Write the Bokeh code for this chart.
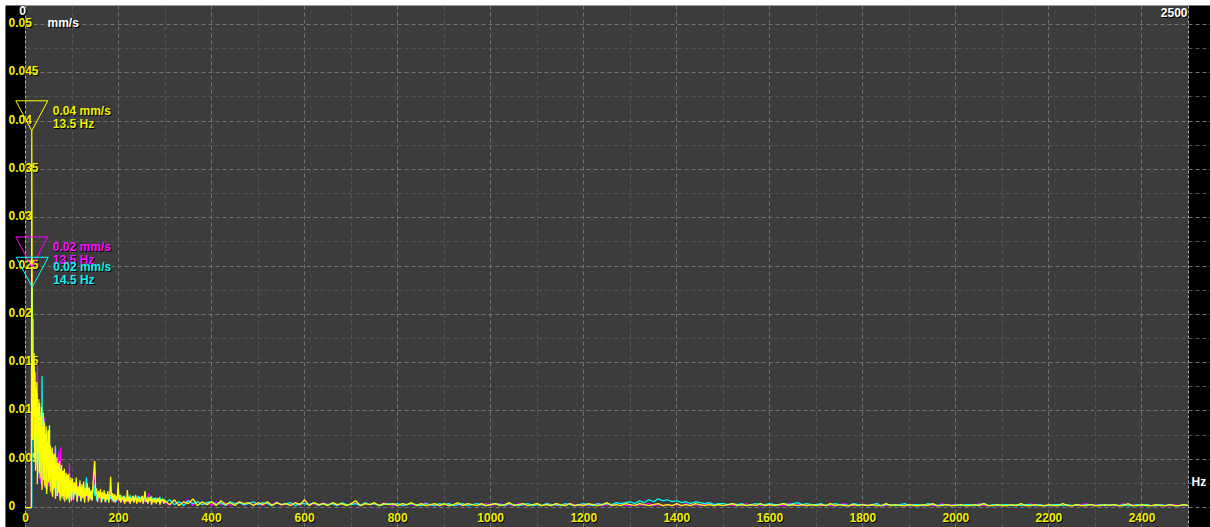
import numpy as np
from bokeh.plotting import figure
from bokeh.models import (ColumnDataSource, LabelSet, Label, Grid, FixedTicker,
                          PolyAnnotation, BoxAnnotation, Span, Range1d)
from bokeh.core.properties import value
from bokeh.embed import file_html
from bokeh.resources import INLINE

# ---------------------------------------------------------------------------
# Frequency bins (Hz): fine resolution at the low end, coarser further up
# ---------------------------------------------------------------------------
FREQ_LO = np.arange(0.5, 100.0, 1.0)       # 0.5 ... 99.5
FREQ_MID = np.arange(101.0, 300.0, 2.0)    # 101 ... 299
FREQ_HI = np.arange(300.0, 2501.0, 10.0)   # 300 ... 2500

# ---------------------------------------------------------------------------
# Velocity amplitude spectra, in units of 1e-4 mm/s
# ---------------------------------------------------------------------------
MAGENTA_LO = [
    0, 0, 0, 0, 0, 0, 0, 0, 0, 0, 0, 0, 0,
    249,
    150, 192, 84, 140, 62, 128,
    90, 118, 40, 110, 60, 150, 30, 96, 52, 104,
    44, 92, 26, 84, 58, 90, 20, 76, 42, 86,
    24, 93, 50, 74, 16, 66, 38, 78, 22, 64,
    48, 70, 18, 60, 34, 56, 12, 52, 30, 54,
    20, 50, 36, 62, 10, 48, 26, 44, 14, 40,
    30, 58, 12, 42, 24, 62, 8, 38, 20, 36,
    14, 34, 26, 40, 7, 30, 18, 36, 10, 28,
    32, 9, 26, 24, 46, 8, 26, 18, 28, 6,
]
MAGENTA_MID = [
    22, 8, 26, 12, 20, 6, 24, 10, 18, 7,
    21, 9, 17, 5, 22, 11, 16, 6, 19, 8,
    15, 7, 20, 49, 30, 12, 17, 5, 14, 9,
    16, 6, 13, 8, 15, 5, 12, 9, 14, 6,
    11, 16, 7, 12, 5, 13, 6, 11, 8, 12,
    6, 12, 5, 10, 7, 11, 4, 9, 6, 10,
    5, 10, 4, 9, 7, 11, 5, 8, 10, 4,
    9, 6, 10, 5, 8, 11, 4, 9, 6, 7,
    8, 4, 15, 6, 10, 3, 8, 9, 5, 9,
    4, 8, 6, 9, 3, 7, 6, 8, 4, 7,
]
MAGENTA_HI = [
    6, 2, 7, 3, 5, 8, 2, 6, 3, 5,
    2, 6, 3, 5, 2, 4, 6, 2, 5, 3,
    4, 2, 5, 3, 6, 2, 4, 3, 5, 2,
    7, 3, 4, 2, 5, 3, 4, 2, 4, 3,
    3, 5, 2, 4, 3, 4, 2, 5, 3, 2,
    4, 2, 3, 4, 2, 3, 5, 2, 3, 2,
    3, 4, 2, 3, 2, 4, 3, 2, 3, 4,
    2, 3, 4, 2, 3, 2, 4, 3, 2, 3,
    3, 2, 4, 3, 2, 3, 2, 4, 3, 2,
    3, 2, 3, 4, 2, 3, 2, 3, 4, 2,
    2, 3, 2, 3, 4, 2, 3, 2, 3, 2,
    3, 2, 4, 2, 3, 2, 3, 4, 2, 3,
    2, 3, 2, 3, 2, 4, 2, 3, 2, 3,
    2, 3, 2, 2, 4, 2, 3, 2, 3, 2,
    3, 2, 3, 2, 2, 3, 4, 2, 2, 3,
    2, 3, 2, 4, 2, 2, 3, 2, 3, 2,
    2, 3, 2, 2, 3, 2, 2, 4, 2, 3,
    3, 2, 2, 3, 2, 4, 2, 2, 3, 2,
    2, 3, 2, 2, 3, 2, 4, 2, 3, 2,
    2, 2, 3, 2, 3, 2, 2, 3, 4, 2,
    3, 2, 2, 3, 2, 2, 4, 2, 3, 2,
    2, 3, 2, 2, 3, 2, 2, 3, 2, 2,
    3,
]

CYAN_LO = [
    0, 0, 0, 0, 0, 0, 0, 0, 0, 0, 0, 0, 0, 0,
    228,
    96, 196, 70, 150, 58,
    120, 130, 44, 108, 66, 118, 34, 100, 56, 92,
    40, 98, 62, 88, 24, 136, 50, 82, 30, 90,
    36, 80, 20, 72, 46, 78, 18, 68, 40, 62,
    28, 85, 22, 58, 36, 60, 14, 54, 32, 56,
    18, 50, 30, 48, 64, 12, 44, 26, 46, 16,
    40, 22, 44, 10, 36, 28, 42, 12, 34, 20,
    32, 8, 30, 22, 36, 10, 28, 16, 31, 9,
    26, 18, 30, 7, 24, 14, 28, 10, 22, 16,
]
CYAN_MID = [
    24, 9, 20, 13, 26, 7, 18, 12, 22, 6,
    19, 10, 23, 8, 17, 31, 12, 20, 7, 16,
    14, 8, 19, 24, 12, 16, 7, 14, 10, 15,
    12, 14, 7, 13, 10, 15, 6, 12, 14, 8,
    13, 9, 14, 7, 12, 10, 13, 6, 11, 9,
    12, 7, 13, 8, 11, 6, 12, 9, 10, 7,
    11, 8, 13, 6, 10, 12, 7, 11, 9, 6,
    10, 12, 6, 9, 11, 7, 10, 8, 12, 6,
    9, 11, 6, 10, 8, 12, 5, 9, 10, 7,
    8, 10, 6, 9, 11, 5, 8, 9, 7, 8,
]
CYAN_HI = [
    5, 8, 3, 6, 2, 7, 4, 6, 3, 5,
    6, 3, 5, 2, 6, 4, 5, 3, 4, 6,
    3, 5, 4, 2, 5, 3, 4, 5, 2, 4,
    4, 3, 5, 2, 4, 3, 4, 2, 5, 3,
    3, 4, 2, 5, 3, 4, 2, 3, 4, 3,
    4, 2, 3, 4, 3, 2, 4, 3, 2, 4,
    3, 4, 2, 3, 4, 2, 3, 4, 3, 2,
    3, 4, 3, 2, 4, 3, 2, 3, 4, 2,
    3, 2, 4, 3, 3, 2, 4, 3, 2, 3,
    4, 3, 2, 4, 3, 4, 3, 5, 4, 5,
    6, 4, 7, 5, 8, 6, 9, 7, 8, 6,
    7, 5, 6, 4, 6, 5, 4, 5, 3, 4,
    4, 3, 4, 3, 4, 2, 3, 4, 3, 3,
    4, 3, 3, 4, 3, 4, 5, 3, 4, 3,
    3, 4, 2, 3, 4, 3, 3, 2, 4, 3,
    3, 2, 3, 4, 2, 3, 3, 2, 3, 4,
    2, 3, 3, 2, 4, 3, 2, 3, 3, 2,
    3, 2, 3, 3, 2, 3, 4, 2, 3, 2,
    3, 3, 2, 3, 2, 3, 3, 2, 3, 2,
    2, 3, 3, 2, 3, 2, 3, 2, 3, 3,
    2, 3, 2, 3, 3, 2, 3, 2, 2, 3,
    2, 3, 2, 2, 3, 2, 3, 2, 2, 3,
    2,
]

YELLOW_LO = [
    0, 0, 0, 0, 0, 0, 0, 0, 0, 0, 0, 0, 0,
    390,
    166, 70, 152, 96, 160, 50,
    140, 38, 124, 76, 130, 24, 104, 58, 112, 36,
    108, 30, 94, 60, 104, 18, 84, 46, 98, 28,
    88, 22, 76, 50, 84, 14, 68, 40, 80, 26,
    62, 85, 30, 64, 16, 58, 34, 62, 11, 50,
    55, 20, 42, 56, 9, 46, 28, 52, 12, 38,
    46, 15, 34, 48, 7, 40, 24, 44, 10, 32,
    38, 12, 28, 40, 6, 32, 19, 36, 8, 26,
    34, 10, 24, 35, 5, 28, 15, 31, 7, 23,
]
YELLOW_MID = [
    30, 8, 26, 14, 31, 6, 22, 12, 28, 7,
    24, 10, 27, 5, 20, 12, 25, 6, 21, 9,
    18, 7, 24, 36, 48, 14, 20, 6, 17, 10,
    19, 5, 16, 9, 18, 6, 14, 8, 17, 5,
    12, 32, 9, 15, 6, 14, 5, 12, 8, 26,
    7, 13, 5, 11, 8, 12, 4, 10, 6, 18,
    6, 11, 4, 10, 7, 12, 5, 9, 13, 4,
    10, 6, 11, 5, 9, 12, 4, 10, 17, 6,
    9, 4, 10, 7, 11, 3, 8, 9, 5, 10,
    4, 9, 6, 10, 3, 8, 7, 9, 4, 8,
]
YELLOW_HI = [
    7, 3, 8, 2, 6, 4, 9, 2, 6, 3,
    6, 2, 7, 3, 5, 2, 6, 4, 5, 2,
    5, 3, 6, 2, 5, 3, 4, 2, 5, 3,
    8, 2, 5, 3, 4, 2, 5, 3, 4, 2,
    4, 7, 2, 4, 3, 5, 2, 4, 3, 4,
    2, 4, 3, 5, 2, 4, 2, 3, 4, 2,
    4, 2, 3, 5, 2, 4, 3, 2, 4, 2,
    3, 4, 2, 3, 5, 2, 3, 4, 2, 3,
    4, 2, 3, 2, 4, 3, 2, 4, 2, 3,
    2, 4, 3, 2, 3, 5, 2, 3, 2, 4,
    3, 2, 4, 3, 2, 3, 4, 2, 3, 2,
    4, 2, 3, 2, 4, 3, 2, 3, 2, 3,
    2, 3, 4, 2, 3, 2, 3, 2, 4, 2,
    3, 2, 3, 4, 2, 3, 2, 3, 2, 3,
    2, 3, 2, 4, 2, 3, 2, 2, 3, 2,
    3, 2, 3, 2, 2, 4, 2, 3, 2, 2,
    3, 2, 2, 3, 2, 4, 2, 2, 3, 2,
    2, 3, 2, 2, 3, 2, 4, 2, 2, 3,
    2, 2, 3, 2, 4, 2, 2, 3, 2, 2,
    3, 2, 2, 4, 2, 2, 3, 2, 2, 3,
    2, 2, 3, 2, 3, 2, 2, 4, 2, 2,
    3, 2, 2, 3, 2, 2, 3, 2, 2, 3,
    2,
]

# axis ticks
X_TICKS = [0, 200, 400, 600, 800, 1000, 1200, 1400, 1600, 1800, 2000, 2200, 2400]
X_TICK_LABELS = ["0", "200", "400", "600", "800", "1000", "1200", "1400",
                 "1600", "1800", "2000", "2200", "2400"]
X_MINOR = [100, 300, 500, 700, 900, 1100, 1300, 1500, 1700, 1900, 2100, 2300]
Y_TICKS = [0, 0.005, 0.01, 0.015, 0.02, 0.025, 0.03, 0.035, 0.04, 0.045, 0.05]
Y_TICK_LABELS = ["0", "0.005", "0.01", "0.015", "0.02", "0.025", "0.03",
                 "0.035", "0.04", "0.045", "0.05"]
Y_MINOR = [0.0025, 0.0075, 0.0125, 0.0175, 0.0225, 0.0275, 0.0325, 0.0375,
           0.0425, 0.0475]

X_UNIT, Y_UNIT = "Hz", "mm/s"
F_START, F_END = 0, 2500
X_START_LABEL, X_END_LABEL = "0", "2500"

# ---------------------------------------------------------------------------
# Layout / style
# ---------------------------------------------------------------------------
FONT = "Liberation Sans"
FIG_W, FIG_H = 1205, 522
# visible window: a black strip left of 0 Hz and right of 2500 Hz
X_VIEW = (-43.0, 2547.3)
Y_VIEW = (-0.00207, 0.05197)
BG = "#3c3c3c"
GRID_MAJOR, GRID_MINOR, EDGE = "#747474", "#545454", "#b0b0b0"
TEXT_YELLOW = "#f0f000"
TRACE_WIDTH = 1.25

freq = np.concatenate([FREQ_LO, FREQ_MID, FREQ_HI])


def spectrum(lo, mid, hi):
    amp = np.concatenate([lo, mid, hi]).astype(float) * 1e-4
    assert len(amp) == len(freq)
    return amp


series = [
    ("magenta", spectrum(MAGENTA_LO, MAGENTA_MID, MAGENTA_HI), "#ff00ff", "#ff10ff"),
    ("cyan", spectrum(CYAN_LO, CYAN_MID, CYAN_HI), "#00ffff", "#10f0f0"),
    ("yellow", spectrum(YELLOW_LO, YELLOW_MID, YELLOW_HI), "#ffff00", TEXT_YELLOW),
]

p = figure(width=FIG_W, height=FIG_H,
           x_range=Range1d(*X_VIEW), y_range=Range1d(*Y_VIEW),
           x_axis_location=None, y_axis_location=None,
           toolbar_location=None, output_backend="svg",
           min_border=0, min_border_left=0, min_border_right=0,
           min_border_top=0, min_border_bottom=0,
           border_fill_color="black", background_fill_color=BG,
           outline_line_color=None, margin=(5, 0, 0, 5))

# right strip sits beneath the grid (grid lines run on through it)
p.add_layout(BoxAnnotation(left=F_END, fill_color="black", fill_alpha=1,
                           line_alpha=0, level="image"))

# dashed grid: major and minor lines
p.center = [r for r in p.center if not isinstance(r, Grid)]
p.add_layout(Grid(dimension=0, ticker=FixedTicker(ticks=X_TICKS, minor_ticks=X_MINOR),
                  grid_line_color=GRID_MAJOR, grid_line_dash="4 3",
                  minor_grid_line_color=GRID_MINOR, minor_grid_line_dash="4 3"), "center")
p.add_layout(Grid(dimension=1, ticker=FixedTicker(ticks=Y_TICKS, minor_ticks=Y_MINOR),
                  grid_line_color=GRID_MAJOR, grid_line_dash="4 3",
                  minor_grid_line_color=GRID_MINOR, minor_grid_line_dash="4 3"), "center")

# left strip covers the grid
p.add_layout(BoxAnnotation(right=F_START, fill_color="black", fill_alpha=1,
                           line_alpha=0, level="underlay"))
for loc in (F_START, F_END):
    p.add_layout(Span(location=loc, dimension="height", line_color=EDGE,
                      line_dash="3 2", line_width=1, level="underlay"))


def label_set(xs, ys, texts, color, dx, dy, align, level="underlay"):
    src = ColumnDataSource(dict(x=xs, y=ys, text=texts))
    for c, ox, oy in (("black", dx + 1, dy - 1), (color, dx, dy)):
        p.add_layout(LabelSet(x="x", y="y", text="text", source=src, level=level,
                              x_offset=ox, y_offset=oy, text_color=c,
                              text_font=value(FONT), text_font_style="bold",
                              text_font_size="12px", text_align=align,
                              text_baseline="middle"))


# tick labels sit under the traces
label_set([F_START] * len(Y_TICKS), Y_TICKS, Y_TICK_LABELS, TEXT_YELLOW, -17, 2, "left")
label_set(X_TICKS, [0] * len(X_TICKS), X_TICK_LABELS, TEXT_YELLOW, 0, -10, "center")

# spectra
for name, amp, color, _ in series:
    p.line(freq, amp, line_color=color, line_width=TRACE_WIDTH, name=name)


def label(x, y, text, color, dx, dy, align="left"):
    for c, ox, oy in (("black", dx + 1, dy - 1), (color, dx, dy)):
        p.add_layout(Label(x=x, y=y, text=text, x_offset=ox, y_offset=oy,
                           text_color=c, text_font=FONT, text_font_style="bold",
                           text_font_size="12px", text_align=align,
                           text_baseline="middle"))


label(F_START, Y_VIEW[1], Y_UNIT, "white", 22, -17)
label(F_START, Y_VIEW[1], X_START_LABEL, "white", -3, -5, "center")
label(F_END, Y_VIEW[1], X_END_LABEL, "white", -1, -7, "right")
label(F_END, 0, X_UNIT, "white", 3, 26)

# peak markers: open inverted triangle with its tip on the peak
px_per_hz = FIG_W / (X_VIEW[1] - X_VIEW[0])
px_per_unit = FIG_H / (Y_VIEW[1] - Y_VIEW[0])
half_w = 16 / px_per_hz
tri_h = 30 / px_per_unit
for name, amp, color, text_color in series:
    i = int(np.argmax(amp))
    f_pk, v_pk = float(freq[i]), float(amp[i])
    p.add_layout(PolyAnnotation(xs=[f_pk - half_w, f_pk + half_w, f_pk],
                                ys=[v_pk + tri_h, v_pk + tri_h, v_pk],
                                line_color=color, line_alpha=1, line_width=1,
                                fill_color=None, fill_alpha=0))
    label(f_pk, v_pk, f"{v_pk:.2f} mm/s", text_color, 21, 20)
    label(f_pk, v_pk, f"{f_pk:.1f} Hz", text_color, 21, 7)

open("out.html", "w").write(file_html(p, INLINE))
